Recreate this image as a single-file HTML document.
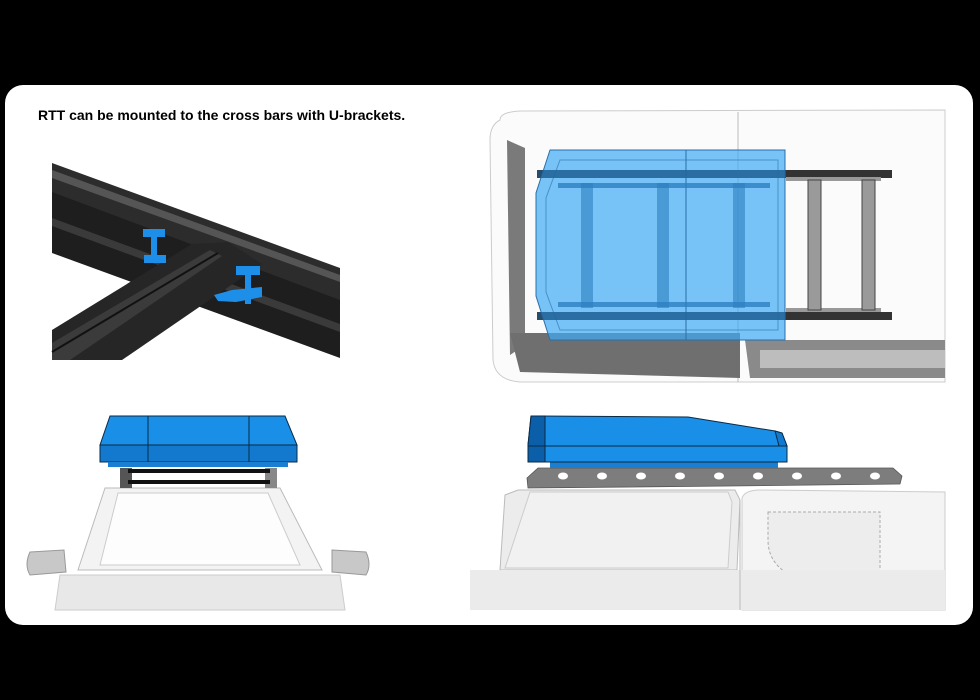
<!DOCTYPE html>
<html><head><style>
html,body{margin:0;padding:0;background:#000;}
body{width:980px;height:700px;position:relative;overflow:hidden;font-family:"Liberation Sans",sans-serif;}
</style></head><body>
<svg width="980" height="700" viewBox="0 0 980 700" xmlns="http://www.w3.org/2000/svg" style="position:absolute;left:0;top:0">
<rect x="0" y="0" width="980" height="700" fill="#000"/>
<rect x="5" y="85" width="968" height="540" rx="18" fill="#fff"/>
<text x="38" y="120" font-family="Liberation Sans, sans-serif" font-weight="bold" font-size="14" fill="#000">RTT can be mounted to the cross bars with U-brackets.</text>

<!-- Top-left: rack detail -->
<g>
<polygon points="52,163 340,268 340,360 52,360" fill="#fff"/>
<polygon points="52,190 340,298 340,358 52,253" fill="#1e1e1e"/>
<polygon points="52,218 340,324 340,332 52,226" fill="#3a3a3a"/>
<polygon points="52,163 340,268 340,300 52,192" fill="#2c2c2c"/>
<polygon points="52,170 340,275 340,282 52,178" fill="#555"/>
<polygon points="52,330 192,244 228,242 262,264 122,360 52,360" fill="#262626"/>
<polygon points="52,343 210,250 222,256 70,360 52,360" fill="#3b3b3b"/>
<line x1="52" y1="352" x2="218" y2="253" stroke="#111" stroke-width="2"/>
<!-- brackets -->
<rect x="143" y="229" width="22" height="8" fill="#1e8fe8"/>
<rect x="151" y="236" width="6" height="20" fill="#1e8fe8"/>
<rect x="144" y="255" width="22" height="8" fill="#1e8fe8"/>
<rect x="236" y="266" width="24" height="9" fill="#1e8fe8"/>
<rect x="245" y="274" width="6" height="30" fill="#1e8fe8"/>
<polygon points="214,295 232,290 262,287 262,297 236,302 218,301" fill="#1e8fe8"/>
</g>

<!-- Top-right: top view -->
<g>
<path d="M500,120 Q500,112 520,111 L945,110 L945,382 L520,382 Q495,380 493,360 L490,140 Q490,125 500,120 Z" fill="#fbfbfb" stroke="#ccc" stroke-width="1"/>
<line x1="738" y1="112" x2="738" y2="382" stroke="#bbb"/>
<polygon points="507,140 525,148 525,345 510,355" fill="#7a7a7a"/>
<polygon points="510,333 740,333 740,378 520,372" fill="#6f6f6f"/>
<polygon points="745,340 945,340 945,378 750,378" fill="#8a8a8a"/>
<rect x="760" y="350" width="185" height="18" fill="#bdbdbd"/>
<!-- rails -->
<rect x="537" y="170" width="355" height="8" fill="#333"/>
<rect x="537" y="312" width="355" height="8" fill="#333"/>
<rect x="786" y="177" width="95" height="4" fill="#999"/>
<rect x="786" y="308" width="95" height="4" fill="#999"/>
<rect x="808" y="180" width="13" height="130" fill="#9a9a9a" stroke="#444"/>
<rect x="862" y="180" width="13" height="130" fill="#9a9a9a" stroke="#444"/>
<!-- blue tent -->
<polygon points="550,150 785,150 785,340 550,340 536,296 536,193" fill="#3fa9f5" fill-opacity="0.7" stroke="#2a6fa8"/>
<polygon points="560,160 778,160 778,330 560,330 546,292 546,198" fill="none" stroke="#2a6fa8" stroke-opacity="0.6"/>
<line x1="686" y1="150" x2="686" y2="340" stroke="#2a6fa8"/>
<rect x="558" y="183" width="212" height="5" fill="#2d7fc0" fill-opacity="0.8"/>
<rect x="558" y="302" width="212" height="5" fill="#2d7fc0" fill-opacity="0.8"/>
<rect x="581" y="183" width="12" height="125" fill="#2d7fc0" fill-opacity="0.6"/>
<rect x="657" y="183" width="12" height="125" fill="#2d7fc0" fill-opacity="0.6"/>
<rect x="733" y="183" width="12" height="125" fill="#2d7fc0" fill-opacity="0.6"/>
<rect x="537" y="170" width="248" height="8" fill="#1f5f95" fill-opacity="0.6"/>
<rect x="537" y="312" width="248" height="8" fill="#1f5f95" fill-opacity="0.6"/>
</g>

<!-- Bottom-left: front view -->
<g>
<polygon points="105,488 280,488 322,570 78,570" fill="#f3f3f3" stroke="#bbb"/>
<polygon points="118,493 268,493 300,565 100,565" fill="#fdfdfd" stroke="#ccc"/>
<path d="M30,552 L64,550 L66,572 L30,575 Q24,565 30,552 Z" fill="#c8c8c8" stroke="#999"/>
<path d="M332,550 L366,552 Q372,565 366,575 L332,572 Z" fill="#c8c8c8" stroke="#999"/>
<path d="M60,575 L340,575 L345,610 L55,610 Z" fill="#e8e8e8" stroke="#ccc"/>
<rect x="120" y="468" width="12" height="20" fill="#555"/>
<rect x="265" y="468" width="12" height="20" fill="#888"/>
<rect x="128" y="469" width="142" height="4" fill="#111"/>
<rect x="128" y="480" width="142" height="4" fill="#111"/>
<polygon points="110,416 285,416 297,445 100,445" fill="#1a8fe8" stroke="#0b2a45"/>
<rect x="100" y="445" width="197" height="17" fill="#1279cf" stroke="#0b2a45"/>
<line x1="148" y1="416" x2="148" y2="462" stroke="#0b2a45"/>
<line x1="249" y1="416" x2="249" y2="462" stroke="#0b2a45"/>
<rect x="108" y="462" width="180" height="5" fill="#1a7fd0"/>
</g>

<!-- Bottom-right: side view -->
<g>
<polygon points="518,490 735,490 740,500 737,570 500,570 505,495" fill="#ececec" stroke="#bbb"/>
<polygon points="530,492 728,492 732,502 728,568 505,568" fill="#f1f1f1" stroke="#ccc"/>
<path d="M742,498 Q745,490 760,490 L945,492 L945,610 L742,610 Z" fill="#f4f4f4" stroke="#ccc"/>
<path d="M768,512 L880,512 L880,572 L785,572 Q768,560 768,540 Z" fill="#ededed" stroke="#aaa" stroke-dasharray="3,2"/>
<rect x="470" y="570" width="475" height="40" fill="#ebebeb"/>
<line x1="740" y1="500" x2="740" y2="610" stroke="#bbb"/>
<polygon points="538,468 893,468 902,476 900,484 730,486 528,488 527,478" fill="#7d7d7d" stroke="#555" stroke-width="0.8"/>
<g fill="#fff">
<ellipse cx="563" cy="476" rx="5" ry="3.5"/><ellipse cx="602" cy="476" rx="5" ry="3.5"/><ellipse cx="641" cy="476" rx="5" ry="3.5"/><ellipse cx="680" cy="476" rx="5" ry="3.5"/><ellipse cx="719" cy="476" rx="5" ry="3.5"/><ellipse cx="758" cy="476" rx="5" ry="3.5"/><ellipse cx="797" cy="476" rx="5" ry="3.5"/><ellipse cx="836" cy="476" rx="5" ry="3.5"/><ellipse cx="875" cy="476" rx="5" ry="3.5"/>
</g>
<rect x="550" y="461" width="228" height="7" fill="#1a7fd0"/>
<polygon points="538,416 688,417 775,431 782,433 787,446 787,462 528,462 528,445 531,416" fill="#1a8fe8" stroke="#0b2a45"/>
<polygon points="531,416 545,416 545,462 528,462 528,445" fill="#0b5ea8" stroke="#0b2a45"/>
<line x1="528" y1="446" x2="787" y2="446" stroke="#0b2a45"/>
<polygon points="775,431 782,433 787,446 779,446" fill="#1279cf" stroke="#0b2a45"/>
</g>
</svg>
</body></html>
